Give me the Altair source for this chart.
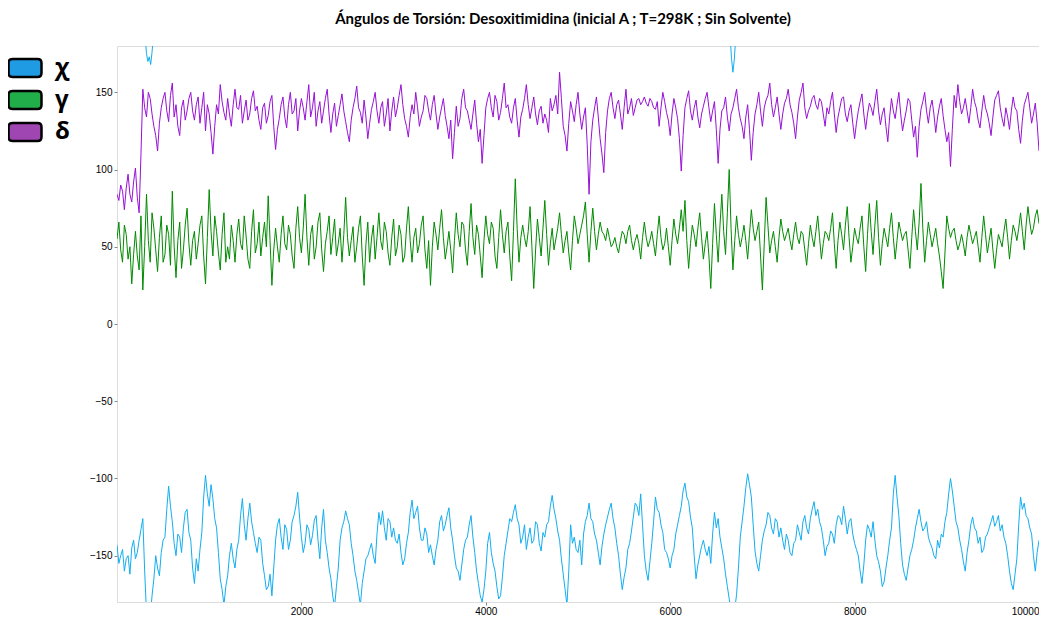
import altair as alt
import pandas as pd

# ---- data ----
# main samples every 40 frames, plus in-between samples at the odd multiples of 20
frames = list(range(0, 10001, 40))
frames_mid = list(range(20, 10000, 40))

chi = [
    -143, -150, -160, -150, -145, -152, -140, -126, -187, -190,
    -165, -158, -148, -138, -105, -128, -150, -138, -132, -120,
    -140, -168, -160, -135, -98, -118, -113, -132, -165, -182,
    -163, -142, -158, -140, -113, -140, -116, -135, -148, -140,
    -163, -170, -176, -140, -126, -146, -133, -140, -124, -109,
    -138, -142, -133, -137, -124, -152, -120, -148, -165, -183,
    -158, -132, -121, -130, -150, -166, -182, -160, -150, -142,
    -155, -122, -121, -140, -128, -132, -142, -148, -152, -135,
    -114, -122, -132, -140, -136, -143, -156, -140, -124, -130,
    -119, -140, -158, -166, -146, -138, -124, -148, -168, -180,
    -160, -135, -155, -170, -176, -150, -134, -128, -117, -130,
    -138, -146, -132, -140, -130, -147, -138, -128, -111, -126,
    -140, -162, -182, -130, -138, -148, -156, -128, -116, -128,
    -140, -156, -136, -125, -116, -132, -150, -172, -158, -142,
    -125, -118, -110, -150, -166, -142, -112, -122, -135, -148,
    -158, -146, -130, -118, -103, -115, -132, -165, -150, -140,
    -150, -155, -122, -126, -145, -162, -178, -193, -175, -138,
    -118, -97, -112, -147, -160, -140, -130, -124, -136, -128,
    -132, -146, -140, -150, -140, -135, -128, -132, -126, -115,
    -120, -132, -150, -142, -136, -130, -125, -118, -136, -126,
    -142, -150, -168, -140, -133, -128, -150, -160, -167, -150,
    -132, -98, -124, -156, -166, -150, -140, -126, -128, -132,
    -138, -145, -152, -145, -138, -122, -100, -118, -132, -146,
    -160, -140, -125, -134, -138, -146, -136, -128, -131, -124,
    -130, -142, -160, -172, -152, -112, -116, -126, -136, -160,
    -140,
]
chi_mid = [
    -155, -146, -152, -162, -140, -148, -133, -160, -195, -176,
    -150, -163, -140, -120, -118, -142, -136, -148, -122, -135,
    -158, -152, -146, -112, -110, -104, -126, -148, -172, -170,
    -150, -152, -146, -124, -130, -126, -128, -142, -138, -155,
    -172, -162, -158, -130, -138, -130, -146, -128, -118, -125,
    -148, -130, -143, -127, -140, -132, -140, -158, -176, -170,
    -140, -128, -126, -142, -160, -174, -168, -152, -146, -150,
    -136, -130, -132, -126, -138, -140, -136, -156, -142, -122,
    -126, -118, -140, -132, -148, -150, -146, -128, -134, -124,
    -132, -150, -160, -156, -140, -130, -138, -160, -176, -172,
    -142, -148, -160, -178, -164, -142, -126, -122, -126, -142,
    -130, -138, -142, -128, -142, -135, -130, -118, -120, -134,
    -152, -172, -160, -142, -146, -140, -136, -124, -126, -136,
    -148, -144, -130, -120, -126, -142, -162, -164, -146, -134,
    -116, -124, -130, -160, -154, -128, -120, -130, -146, -152,
    -150, -136, -124, -108, -112, -125, -150, -156, -144, -146,
    -144, -136, -132, -138, -152, -170, -186, -185, -158, -128,
    -106, -104, -130, -155, -150, -134, -122, -132, -126, -138,
    -140, -136, -148, -142, -130, -140, -124, -136, -120, -124,
    -128, -140, -144, -134, -142, -124, -130, -126, -128, -136,
    -146, -160, -156, -130, -138, -140, -154, -170, -158, -140,
    -110, -112, -142, -162, -158, -146, -132, -120, -134, -128,
    -142, -150, -140, -136, -128, -110, -108, -128, -140, -154,
    -148, -130, -132, -142, -148, -138, -132, -124, -128, -134,
    -138, -150, -168, -162, -130, -120, -124, -132, -150, -148,
]

# parts of chi that wrapped round past -180 and show at the top
chi_wrap1_t = [305, 320, 335, 350, 365, 380, 395]
chi_wrap1_v = [186, 175, 170, 173, 168, 176, 187]
chi_wrap2_t = [6650, 6665, 6680, 6695, 6710]
chi_wrap2_v = [186, 172, 163, 171, 185]

gamma = [
    55, 48, 64, 42, 26, 60, 35, 22, 84, 40,
    62, 34, 70, 45, 58, 86, 30, 66, 48, 75,
    38, 60, 52, 70, 26, 87, 44, 60, 35, 72,
    50, 64, 40, 68, 48, 57, 36, 74, 52, 44,
    66, 83, 25, 62, 40, 70, 48, 58, 36, 76,
    46, 84, 38, 64, 50, 72, 34, 60, 45, 68,
    52, 40, 82, 44, 63, 50, 70, 25, 66, 55,
    42, 72, 48, 60, 38, 68, 50, 58, 44, 76,
    40, 62, 52, 70, 36, 25, 66, 48, 74, 42,
    60, 33, 72, 50, 64, 38, 78, 45, 58, 30,
    70, 52, 62, 36, 74, 46, 66, 28, 94, 40,
    64, 50, 76, 23, 68, 44, 80, 38, 62, 55,
    72, 46, 60, 35, 70, 52, 64, 79, 40, 75,
    48, 66, 58, 62, 50, 56, 46, 60, 52, 64,
    48, 58, 42, 66, 50, 60, 44, 70, 48, 62,
    38, 68, 52, 74, 80, 36, 64, 50, 72, 42,
    60, 23, 78, 40, 84, 45, 100, 35, 70, 50,
    64, 42, 74, 54, 66, 22, 82, 46, 60, 40,
    68, 54, 62, 48, 66, 52, 58, 38, 64, 50,
    70, 42, 60, 54, 72, 36, 66, 48, 76, 40,
    62, 52, 70, 34, 78, 45, 80, 38, 62, 50,
    72, 42, 66, 54, 60, 36, 74, 48, 91, 40,
    66, 50, 62, 44, 23, 70, 56, 62, 48, 58,
    44, 64, 52, 60, 40, 70, 46, 62, 36, 58,
    50, 68, 42, 64, 54, 72, 48, 76, 58, 70,
    65,
]
gamma_mid = [
    66, 40, 58, 50, 45, 44, 70, 50, 54, 72,
    48, 56, 40, 64, 38, 50, 54, 36, 64, 52,
    54, 42, 64, 44, 56, 60, 70, 46, 58, 40,
    42, 54, 58, 52, 70, 42, 60, 46, 66, 56,
    50, 54, 48, 50, 58, 52, 64, 44, 62, 56,
    62, 56, 58, 42, 66, 48, 52, 70, 56, 44,
    62, 58, 56, 54, 40, 62, 44, 52, 40, 64,
    56, 54, 66, 46, 56, 44, 64, 40, 62, 54,
    56, 46, 64, 48, 54, 50, 58, 62, 56, 50,
    48, 54, 58, 66, 48, 60, 56, 64, 44, 54,
    58, 66, 44, 56, 58, 60, 44, 60, 62, 56,
    56, 60, 50, 48, 56, 62, 58, 52, 48, 62,
    58, 54, 46, 54, 62, 58, 70, 58, 60, 60,
    58, 60, 54, 56, 52, 50, 54, 58, 60, 54,
    54, 52, 56, 56, 54, 52, 58, 56, 52, 50,
    54, 58, 62, 60, 54, 52, 58, 62, 56, 52,
    44, 52, 58, 64, 60, 72, 62, 54, 58, 56,
    54, 58, 62, 60, 44, 52, 64, 54, 50, 56,
    60, 58, 54, 58, 56, 60, 48, 52, 56, 60,
    56, 52, 58, 62, 52, 54, 58, 64, 56, 50,
    56, 62, 50, 58, 60, 64, 56, 52, 56, 62,
    56, 54, 60, 58, 48, 56, 60, 66, 62, 54,
    58, 56, 52, 34, 46, 62, 60, 54, 52, 52,
    56, 58, 56, 50, 56, 58, 54, 48, 48, 54,
    60, 56, 54, 60, 62, 60, 64, 66, 62, 74,
]

delta = [
    84, 90, 74, 97, 79, 101, 72, 152, 134, 146,
    128, 112, 140, 150, 131, 156, 142, 122, 145, 138,
    150, 132, 147, 140, 125, 136, 110, 142, 155, 137,
    146, 128, 152, 139, 130, 145, 136, 151, 141, 126,
    143, 135, 148, 113, 133, 147, 127, 150, 138, 125,
    146, 132, 155, 140, 128, 144, 138, 152, 124, 143,
    135, 149, 131, 118, 140, 154, 137, 145, 120, 139,
    150, 130, 144, 136, 125, 147, 140, 155, 133, 121,
    142, 150, 128, 138, 146, 132, 148, 126, 140, 135,
    120, 107, 141, 133, 152, 138, 126, 145, 118, 104,
    140, 150, 134, 144, 137, 156, 142, 130, 146, 121,
    139, 155, 133, 147, 129, 141, 136, 124, 138, 148,
    163, 128, 112, 144, 131, 150, 126, 140, 84, 132,
    147, 120, 98, 138, 150, 133, 145, 126, 152, 140,
    135, 145, 142, 147, 141, 144, 139, 128, 150, 137,
    122, 146, 133, 99, 140, 151, 132, 145, 127, 141,
    150, 131, 144, 104, 138, 147, 125, 140, 152, 133,
    120, 142, 106, 136, 150, 128, 145, 156, 134, 147,
    126, 143, 152, 137, 120, 145, 156, 133, 141, 148,
    139, 144, 128, 136, 150, 124, 140, 147, 131, 142,
    120, 138, 149, 126, 143, 135, 152, 129, 140, 118,
    146, 133, 150, 125, 138, 144, 121, 108, 139, 150,
    130, 145, 124, 141, 135, 118, 102, 148, 155, 136,
    146, 130, 152, 140, 127, 148, 136, 122, 145, 151,
    133, 140, 126, 147, 138, 117, 142, 150, 130, 143,
    112,
]
delta_mid = [
    80, 86, 88, 84, 92, 82, 110, 140, 150, 136,
    122, 130, 146, 138, 148, 134, 128, 140, 132, 146,
    138, 142, 130, 150, 142, 124, 128, 136, 144, 132,
    136, 142, 140, 148, 138, 132, 146, 138, 132, 140,
    130, 144, 128, 126, 142, 134, 142, 136, 146, 138,
    140, 144, 134, 150, 138, 130, 146, 136, 136, 128,
    142, 138, 124, 132, 146, 140, 130, 134, 130, 144,
    138, 140, 128, 146, 138, 134, 148, 142, 128, 134,
    136, 140, 134, 148, 138, 142, 136, 134, 146, 128,
    132, 124, 128, 146, 140, 132, 136, 130, 126, 122,
    146, 140, 148, 132, 146, 140, 134, 140, 132, 134,
    146, 142, 140, 136, 138, 130, 132, 146, 142, 136,
    146, 122, 130, 138, 142, 136, 134, 116, 118, 140,
    134, 110, 124, 146, 140, 142, 136, 140, 136, 146,
    140, 146, 144, 143, 146, 140, 144, 140, 144, 132,
    136, 140, 120, 122, 146, 138, 140, 134, 136, 146,
    140, 138, 126, 126, 140, 134, 136, 146, 140, 128,
    134, 126, 124, 142, 138, 140, 148, 142, 140, 136,
    136, 146, 142, 130, 134, 150, 140, 138, 146, 142,
    146, 136, 140, 144, 136, 134, 146, 136, 138, 130,
    130, 144, 136, 136, 140, 144, 138, 136, 128, 134,
    138, 142, 136, 132, 146, 132, 128, 128, 144, 138,
    140, 136, 134, 146, 126, 124, 126, 140, 144, 140,
    138, 140, 144, 132, 138, 140, 130, 134, 148, 140,
    128, 134, 138, 140, 126, 132, 146, 140, 136, 130,
]

series_names = ["χ", "γ", "δ"]
line_colors = ["#12aef0", "#008a00", "#9810d6"]
legend_colors = ["#1e9be3", "#22ad4b", "#a046b3"]
legend_border_colors = ["#000000", "#000000", "#000000"]
y_ticks = [-150, -100, -50, 0, 50, 100, 150]
x_ticks = [2000, 4000, 6000, 8000, 10000]
title_text = "Ángulos de Torsión: Desoxitimidina (inicial A ; T=298K ; Sin Solvente)"

parts = [
    ("χ", "χ-main", frames + frames_mid, chi + chi_mid),
    ("χ", "χ-wrap1", chi_wrap1_t, chi_wrap1_v),
    ("χ", "χ-wrap2", chi_wrap2_t, chi_wrap2_v),
    ("γ", "γ", frames + frames_mid, gamma + gamma_mid),
    ("δ", "δ", frames + frames_mid, delta + delta_mid),
]
rows = []
for name, seg, ts, vs in parts:
    for t, v in zip(ts, vs):
        rows.append({"t": t, "value": v, "series": name, "seg": seg})
df = pd.DataFrame(rows).sort_values(["seg", "t"]).reset_index(drop=True)

x_enc = alt.X(
    "t:Q",
    scale=alt.Scale(domain=[0, 10000], nice=False, zero=False),
    axis=alt.Axis(values=x_ticks, format="d", title=None, grid=False, domain=False,
                  tickSize=3, labelFlush=1, labelPadding=1),
)
y_enc = alt.Y(
    "value:Q",
    scale=alt.Scale(domain=[-180, 180], nice=False, zero=False),
    axis=alt.Axis(values=y_ticks, title=None, grid=False, domain=False,
                  tickSize=3, labelPadding=2),
)

rounded_rect = ("M-0.76,-0.545 L0.76,-0.545 Q1,-0.545 1,-0.305 L1,0.305 Q1,0.545 0.76,0.545 "
                "L-0.76,0.545 Q-1,0.545 -1,0.305 L-1,-0.305 Q-1,-0.545 -0.76,-0.545 Z")


def make_legend():
    return alt.Legend(
        orient="left", offset=15, padding=4, title=None,
        symbolType=rounded_rect, symbolSize=1089, symbolOpacity=1,
        symbolStrokeWidth=2.5,
        labelFont="Open Sans", labelFontSize=24, labelFontWeight="bold",
        labelColor="black", labelOffset=12, rowPadding=0,
    )


legend_df = pd.DataFrame({"series": series_names})
legend_layer = alt.Chart(legend_df).mark_point(
    filled=True, shape=rounded_rect, size=1089, strokeWidth=2.5, opacity=0
).encode(
    fill=alt.Fill(
        "series:N",
        scale=alt.Scale(domain=series_names, range=legend_colors),
        legend=make_legend(),
    ),
    stroke=alt.Stroke(
        "series:N",
        scale=alt.Scale(domain=series_names, range=legend_border_colors),
        legend=make_legend(),
    ),
)

lines = alt.Chart(df).mark_line(strokeWidth=1, clip=True).encode(
    x=x_enc,
    y=y_enc,
    color=alt.Color("series:N", scale=alt.Scale(domain=series_names, range=line_colors), legend=None),
    detail="seg:N",
    order="t:Q",
)

chart = alt.layer(legend_layer, lines).properties(
    width=922,
    height=556,
    padding={"left": 109, "top": 38, "right": 0, "bottom": 13},
    autosize=alt.AutoSizeParams(type="none"),
    title=alt.TitleParams(
        text=title_text, anchor="middle", dx=-15, offset=19,
        font="Lato", fontSize=15, fontWeight="bold", color="black",
    ),
).configure_view(
    stroke="#444", strokeWidth=1
).configure_axis(
    labelFont="DejaVu Sans", labelFontSize=8, labelColor="#333", tickColor="#444",
).configure(background="white")

chart.save("out.html", embed_options={"renderer": "svg", "actions": False})
